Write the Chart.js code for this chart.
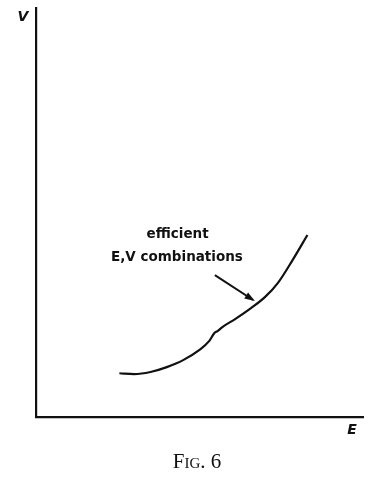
<!DOCTYPE html>
<html>
<head>
<meta charset="utf-8">
<script src="https://cdn.jsdelivr.net/npm/chart.js@4"></script>
<style>
  html, body { margin: 0; padding: 0; background: #fff; }
  #wrap { width: 379px; height: 480px; }
</style>
</head>
<body>
<div id="wrap"><canvas id="chart" width="379" height="480"></canvas></div>
<script>
// efficient E,V combinations (E = expected return, V = variance)
const eValues = [2.55, 3.0, 3.5, 4.0, 4.5, 5.0, 5.3, 5.45, 5.55, 5.7, 6.1, 6.5, 7.0, 7.4, 7.85, 8.3];
const vValues = [1.07, 1.05, 1.10, 1.22, 1.39, 1.64, 1.86, 2.05, 2.10, 2.20, 2.40, 2.62, 2.93, 3.28, 3.84, 4.45];

const axisLabels = { x: 'E', y: 'V' };
const noteLines = ['efficient', 'E,V combinations'];
const caption = 'Fig. 6';

const curve = eValues.map((e, i) => ({ x: e, y: vValues[i] }));

// 注記と矢印、軸ラベル、キャプションを描く
const textPlugin = {
    id: 'textPlugin',
    afterDraw(chart) {
        const ctx = chart.ctx;
        const xs = chart.scales.x;
        const ys = chart.scales.y;
        const area = chart.chartArea;
        ctx.save();
        ctx.fillStyle = '#111';

        // 軸ラベル
        ctx.font = 'italic bold 14px "DejaVu Sans"';
        ctx.textAlign = 'center';
        ctx.textBaseline = 'middle';
        ctx.fillText(axisLabels.y, area.left - 13, area.top + 9);
        ctx.fillText(axisLabels.x, area.right - 11, area.bottom + 13);

        // 注記テキスト
        ctx.font = 'bold 13.5px "DejaVu Sans"';
        ctx.fillText(noteLines[0], xs.getPixelForValue(4.33), ys.getPixelForValue(4.47));
        ctx.fillText(noteLines[1], xs.getPixelForValue(4.31), ys.getPixelForValue(3.91));

        // 矢印
        const x1 = xs.getPixelForValue(5.47), y1 = ys.getPixelForValue(3.47);
        const x2 = xs.getPixelForValue(6.64), y2 = ys.getPixelForValue(2.86);
        ctx.strokeStyle = '#111';
        ctx.lineWidth = 2;
        ctx.beginPath();
        ctx.moveTo(x1, y1);
        ctx.lineTo(x2, y2);
        ctx.stroke();
        const ang = Math.atan2(y2 - y1, x2 - x1);
        ctx.beginPath();
        ctx.moveTo(x2 + 2 * Math.cos(ang), y2 + 2 * Math.sin(ang));
        ctx.lineTo(x2 - 9 * Math.cos(ang - 0.4), y2 - 9 * Math.sin(ang - 0.4));
        ctx.lineTo(x2 - 9 * Math.cos(ang + 0.4), y2 - 9 * Math.sin(ang + 0.4));
        ctx.closePath();
        ctx.fill();

        // キャプション (スモールキャップ)
        ctx.font = 'small-caps 21px "Liberation Serif"';
        ctx.fillText(caption, 197, area.bottom + 45);
        ctx.restore();
    }
};

new Chart(document.getElementById('chart'), {
    type: 'line',
    data: {
        datasets: [{
            data: curve,
            borderColor: '#111',
            borderWidth: 2.2,
            pointRadius: 0,
            tension: 0.4,
            cubicInterpolationMode: 'monotone',
            fill: false
        }]
    },
    options: {
        responsive: false,
        animation: false,
        events: [],
        layout: { padding: { left: 28, top: 8, right: 16, bottom: 55 } },
        plugins: { legend: { display: false }, tooltip: { enabled: false } },
        scales: {
            x: {
                type: 'linear', min: 0, max: 10,
                ticks: { display: false },
                grid: { display: false },
                border: { display: true, color: '#111', width: 2.2 }
            },
            y: {
                type: 'linear', min: 0, max: 10,
                ticks: { display: false },
                grid: { display: false },
                border: { display: true, color: '#111', width: 2.2 }
            }
        }
    },
    plugins: [textPlugin]
});
</script>
</body>
</html>
